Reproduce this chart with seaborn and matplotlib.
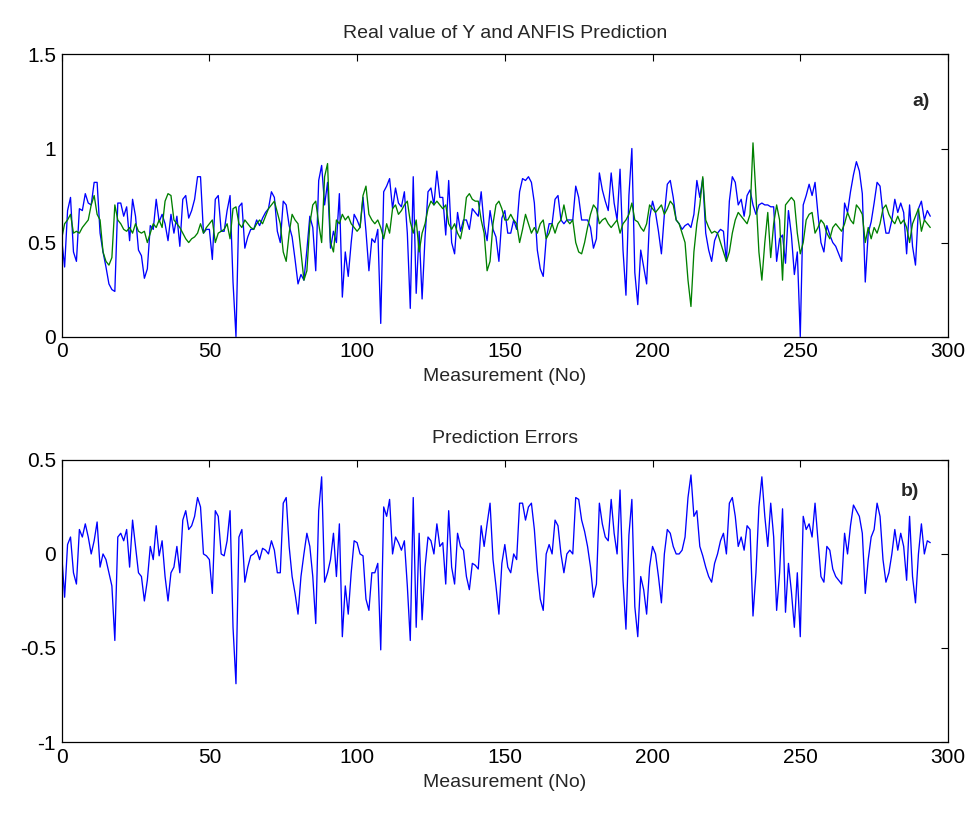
import numpy as np
import pandas as pd
import matplotlib
matplotlib.use("Agg")
import matplotlib.pyplot as plt
import seaborn as sns

# ANFIS prediction (green)
y_pred = [
    0.52, 0.60, 0.62, 0.65, 0.55, 0.56, 0.55, 0.58, 0.60, 0.62,
    0.70, 0.75, 0.65, 0.62, 0.45, 0.40, 0.38, 0.42, 0.70, 0.62,
    0.60, 0.57, 0.56, 0.58, 0.55, 0.60, 0.56, 0.55, 0.56, 0.50,
    0.55, 0.60, 0.58, 0.62, 0.58, 0.72, 0.76, 0.75, 0.62, 0.60,
    0.58, 0.55, 0.52, 0.50, 0.52, 0.53, 0.55, 0.60, 0.55, 0.58,
    0.60, 0.62, 0.50, 0.55, 0.56, 0.57, 0.60, 0.52, 0.68, 0.69,
    0.60, 0.58, 0.62, 0.60, 0.58, 0.57, 0.60, 0.62, 0.60, 0.64,
    0.68, 0.70, 0.72, 0.66, 0.60, 0.45, 0.40, 0.55, 0.65, 0.62,
    0.60, 0.45, 0.30, 0.35, 0.60, 0.70, 0.72, 0.60, 0.50, 0.85,
    0.92, 0.50, 0.45, 0.62, 0.60, 0.65, 0.62, 0.64, 0.60, 0.58,
    0.56, 0.58, 0.75, 0.80, 0.65, 0.62, 0.60, 0.62, 0.58, 0.52,
    0.60, 0.55, 0.68, 0.70, 0.65, 0.67, 0.70, 0.72, 0.61, 0.55,
    0.62, 0.45, 0.55, 0.60, 0.68, 0.72, 0.70, 0.72, 0.70, 0.68,
    0.70, 0.60, 0.57, 0.60, 0.55, 0.52, 0.60, 0.74, 0.76, 0.73,
    0.72, 0.72, 0.62, 0.55, 0.35, 0.40, 0.60, 0.70, 0.72, 0.68,
    0.62, 0.62, 0.65, 0.62, 0.60, 0.50, 0.57, 0.65, 0.60, 0.55,
    0.58, 0.55, 0.60, 0.62, 0.52, 0.55, 0.60, 0.55, 0.60, 0.62,
    0.70, 0.62, 0.60, 0.62, 0.50, 0.45, 0.44, 0.50, 0.58, 0.65,
    0.70, 0.68, 0.60, 0.62, 0.63, 0.60, 0.58, 0.60, 0.62, 0.55,
    0.60, 0.62, 0.65, 0.71, 0.62, 0.61, 0.58, 0.56, 0.60, 0.70,
    0.68, 0.66, 0.68, 0.70, 0.65, 0.68, 0.72, 0.70, 0.62, 0.60,
    0.55, 0.50, 0.30, 0.16, 0.45, 0.60, 0.70, 0.85, 0.62, 0.58,
    0.55, 0.56, 0.55, 0.50, 0.45, 0.40, 0.45, 0.55, 0.62, 0.66,
    0.64, 0.62, 0.60, 0.65, 1.03, 0.75, 0.45, 0.30, 0.50, 0.66,
    0.42, 0.60, 0.70, 0.62, 0.30, 0.70, 0.72, 0.74, 0.72, 0.55,
    0.44, 0.50, 0.62, 0.65, 0.66, 0.55, 0.58, 0.62, 0.60, 0.55,
    0.52, 0.58, 0.60, 0.58, 0.56, 0.60, 0.66, 0.62, 0.60, 0.70,
    0.68, 0.65, 0.50, 0.58, 0.52, 0.58, 0.55, 0.60, 0.68, 0.70,
    0.65, 0.62, 0.60, 0.64, 0.60, 0.62, 0.58, 0.50, 0.60, 0.64,
    0.68, 0.56, 0.62, 0.60, 0.58,
]

# real value of Y (blue)
y_real = [
    0.52, 0.37, 0.67, 0.74, 0.45, 0.40, 0.68, 0.67, 0.76, 0.71,
    0.70, 0.82, 0.82, 0.55, 0.45, 0.37, 0.28, 0.25, 0.24, 0.71,
    0.71, 0.64, 0.69, 0.51, 0.73, 0.64, 0.46, 0.43, 0.31, 0.36,
    0.59, 0.57, 0.73, 0.61, 0.65, 0.60, 0.51, 0.65, 0.55, 0.64,
    0.48, 0.73, 0.75, 0.63, 0.67, 0.73, 0.85, 0.85, 0.55, 0.57,
    0.57, 0.41, 0.73, 0.75, 0.56, 0.56, 0.67, 0.75, 0.29, 0.00,
    0.69, 0.71, 0.47, 0.53, 0.57, 0.57, 0.62, 0.59, 0.63, 0.66,
    0.68, 0.77, 0.74, 0.56, 0.50, 0.72, 0.70, 0.59, 0.53, 0.41,
    0.28, 0.33, 0.30, 0.46, 0.64, 0.58, 0.35, 0.83, 0.91, 0.70,
    0.82, 0.47, 0.56, 0.50, 0.76, 0.21, 0.45, 0.32, 0.50, 0.65,
    0.62, 0.58, 0.74, 0.56, 0.35, 0.52, 0.50, 0.57, 0.07, 0.77,
    0.80, 0.84, 0.68, 0.79, 0.71, 0.69, 0.77, 0.55, 0.15, 0.85,
    0.23, 0.56, 0.20, 0.53, 0.77, 0.79, 0.70, 0.88, 0.74, 0.74,
    0.54, 0.83, 0.50, 0.44, 0.66, 0.56, 0.62, 0.62, 0.57, 0.68,
    0.66, 0.64, 0.77, 0.59, 0.51, 0.67, 0.57, 0.53, 0.40, 0.63,
    0.67, 0.55, 0.55, 0.62, 0.57, 0.77, 0.84, 0.83, 0.85, 0.82,
    0.71, 0.46, 0.36, 0.32, 0.52, 0.60, 0.60, 0.73, 0.75, 0.62,
    0.60, 0.62, 0.62, 0.62, 0.80, 0.74, 0.62, 0.62, 0.62, 0.58,
    0.47, 0.52, 0.87, 0.78, 0.72, 0.67, 0.87, 0.71, 0.62, 0.89,
    0.46, 0.22, 0.75, 1.00, 0.34, 0.17, 0.46, 0.37, 0.28, 0.63,
    0.72, 0.66, 0.56, 0.44, 0.65, 0.81, 0.83, 0.74, 0.62, 0.60,
    0.57, 0.59, 0.60, 0.58, 0.65, 0.83, 0.74, 0.84, 0.55, 0.46,
    0.40, 0.51, 0.55, 0.57, 0.56, 0.40, 0.72, 0.85, 0.82, 0.70,
    0.73, 0.64, 0.75, 0.78, 0.70, 0.65, 0.70, 0.71, 0.70, 0.70,
    0.69, 0.69, 0.40, 0.52, 0.54, 0.39, 0.67, 0.54, 0.33, 0.45,
    0.00, 0.70, 0.75, 0.81, 0.75, 0.82, 0.65, 0.50, 0.45, 0.59,
    0.54, 0.50, 0.48, 0.44, 0.40, 0.71, 0.66, 0.77, 0.86, 0.93,
    0.88, 0.76, 0.29, 0.55, 0.61, 0.71, 0.82, 0.80, 0.65, 0.55,
    0.55, 0.62, 0.73, 0.66, 0.71, 0.66, 0.44, 0.70, 0.48, 0.38,
    0.68, 0.72, 0.62, 0.67, 0.64,
]

# prediction errors (bottom panel)
pred_error = [
    0.00, -0.23, 0.05, 0.09, -0.10, -0.16, 0.13, 0.09, 0.16, 0.09,
    0.00, 0.07, 0.17, -0.07, 0.00, -0.03, -0.10, -0.17, -0.46, 0.09,
    0.11, 0.07, 0.13, -0.07, 0.18, 0.04, -0.10, -0.12, -0.25, -0.14,
    0.04, -0.03, 0.15, -0.01, 0.07, -0.12, -0.25, -0.10, -0.07, 0.04,
    -0.10, 0.18, 0.23, 0.13, 0.15, 0.20, 0.30, 0.25, 0.00, -0.01,
    -0.03, -0.21, 0.23, 0.20, 0.00, -0.01, 0.07, 0.23, -0.39, -0.69,
    0.09, 0.13, -0.15, -0.07, -0.01, 0.00, 0.02, -0.03, 0.03, 0.02,
    0.00, 0.07, 0.02, -0.10, -0.10, 0.27, 0.30, 0.04, -0.12, -0.21,
    -0.32, -0.12, 0.00, 0.11, 0.04, -0.12, -0.37, 0.23, 0.41, -0.15,
    -0.10, -0.03, 0.11, -0.12, 0.16, -0.44, -0.17, -0.32, -0.10, 0.07,
    0.06, 0.00, -0.01, -0.24, -0.30, -0.10, -0.10, -0.05, -0.51, 0.25,
    0.20, 0.29, 0.00, 0.09, 0.06, 0.02, 0.07, -0.17, -0.46, 0.30,
    -0.39, 0.11, -0.35, -0.07, 0.09, 0.07, 0.00, 0.16, 0.04, 0.06,
    -0.16, 0.23, -0.07, -0.16, 0.11, 0.04, 0.02, -0.12, -0.19, -0.05,
    -0.06, -0.08, 0.15, 0.04, 0.16, 0.27, -0.03, -0.17, -0.32, -0.05,
    0.05, -0.07, -0.10, 0.00, -0.03, 0.27, 0.27, 0.18, 0.25, 0.27,
    0.13, -0.09, -0.24, -0.30, 0.00, 0.05, 0.00, 0.18, 0.15, 0.00,
    -0.10, 0.00, 0.02, 0.00, 0.30, 0.29, 0.18, 0.12, 0.04, -0.07,
    -0.23, -0.16, 0.27, 0.16, 0.09, 0.07, 0.29, 0.11, 0.00, 0.34,
    -0.14, -0.40, 0.10, 0.29, -0.28, -0.44, -0.12, -0.19, -0.32, -0.07,
    0.04, 0.00, -0.12, -0.26, 0.00, 0.13, 0.11, 0.04, 0.00, 0.00,
    0.02, 0.09, 0.30, 0.42, 0.20, 0.23, 0.04, -0.01, -0.07, -0.12,
    -0.15, -0.05, 0.00, 0.07, 0.11, 0.00, 0.27, 0.30, 0.20, 0.04,
    0.09, 0.02, 0.15, 0.13, -0.33, -0.10, 0.25, 0.41, 0.20, 0.04,
    0.27, 0.09, -0.30, -0.10, 0.24, -0.31, -0.05, -0.20, -0.39, -0.10,
    -0.44, 0.20, 0.13, 0.16, 0.09, 0.27, 0.07, -0.12, -0.15, 0.04,
    0.02, -0.08, -0.12, -0.14, -0.16, 0.11, 0.00, 0.15, 0.26, 0.23,
    0.20, 0.11, -0.21, -0.03, 0.09, 0.13, 0.27, 0.20, -0.03, -0.15,
    -0.10, 0.00, 0.13, 0.02, 0.11, 0.04, -0.14, 0.20, -0.12, -0.26,
    0.00, 0.16, 0.00, 0.07, 0.06,
]

x_ticks = [0, 50, 100, 150, 200, 250, 300]
y_ticks_top = [0, 0.5, 1, 1.5]
y_labels_top = ["0", "0.5", "1", "1.5"]
y_ticks_bot = [-1, -0.5, 0, 0.5]
y_labels_bot = ["-1", "-0.5", "0", "0.5"]

df = pd.DataFrame({"real": y_real, "anfis": y_pred, "err": pred_error})
df["n"] = np.arange(len(df))

sns.set_style("white")
plt.rcParams["font.family"] = ["Liberation Sans", "DejaVu Sans"]

fig = plt.figure(figsize=(9.71, 8.13), dpi=100)
ax1 = fig.add_axes([0.0635, 0.586, 0.9128, 0.347])
ax2 = fig.add_axes([0.0635, 0.0873, 0.9128, 0.347])

sns.lineplot(data=df, x="n", y="real", ax=ax1, color="#0000ff", linewidth=0.95, estimator=None)
sns.lineplot(data=df, x="n", y="anfis", ax=ax1, color="#008000", linewidth=0.95, estimator=None)
sns.lineplot(data=df, x="n", y="err", ax=ax2, color="#0000ff", linewidth=0.95, estimator=None)

ax1.set_xlim(0, 300)
ax1.set_ylim(0, 1.5)
ax1.set_yticks(y_ticks_top)
ax1.set_yticklabels(y_labels_top)
ax1.set_title("Real value of Y and ANFIS Prediction", fontsize=14, pad=12)
ax1.set_xlabel("Measurement (No)", fontsize=14, labelpad=5)
ax1.set_ylabel("")
ax1.text(291, 1.25, "a)", fontsize=14, fontweight="bold", ha="center", va="center")

ax2.set_xlim(0, 300)
ax2.set_ylim(-1, 0.5)
ax2.set_yticks(y_ticks_bot)
ax2.set_yticklabels(y_labels_bot)
ax2.set_title("Prediction Errors", fontsize=14, pad=12)
ax2.set_xlabel("Measurement (No)", fontsize=14, labelpad=5)
ax2.set_ylabel("")
ax2.text(287, 0.33, "b)", fontsize=14, fontweight="bold", ha="center", va="center")

for ax in (ax1, ax2):
    ax.set_xticks(x_ticks)
    ax.tick_params(direction="in", top=True, right=True, length=5, width=0.8,
                   labelsize=15, pad=4, colors="black")
    for s in ax.spines.values():
        s.set_color("black")
        s.set_linewidth(0.9)

plt.savefig("out.png", dpi=100)
